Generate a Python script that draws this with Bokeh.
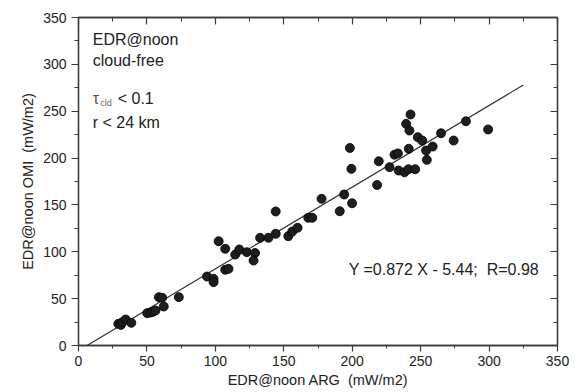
from bokeh.plotting import figure
from bokeh.models import Range1d, LinearAxis, SingleIntervalTicker, CustomJSTickFormatter
from bokeh.core.properties import value
from bokeh.embed import file_html
from bokeh.resources import INLINE

# ---- data ----
arg_x = [29.1, 31.0, 32.0, 34.5, 38.6, 50.2, 52.6, 54.5, 56.3, 58.7, 61.1, 62.3, 73.3,
         93.9, 98.7, 98.7, 102.4, 107.2, 107.2, 109.6, 114.5, 117.5, 123.0, 129.0, 127.9,
         132.7, 138.8, 144.1, 144.1, 153.3, 156.2, 160.1, 167.9, 170.8, 177.6, 190.9,
         194.1, 199.9, 198.3, 199.4, 218.2, 219.4, 227.3, 230.9, 233.4, 233.9, 238.2,
         241.1, 246.0, 241.3, 242.6, 239.4, 241.8, 247.9, 251.1, 254.0, 254.5, 258.8,
         264.9, 274.1, 283.1, 299.3]
omi_y = [23.1, 22.0, 24.9, 27.7, 24.2, 34.5, 35.2, 36.0, 37.3, 51.6, 50.9, 41.6, 51.6,
         73.6, 71.1, 67.6, 111.3, 103.2, 80.8, 81.8, 97.0, 102.5, 99.6, 98.7, 90.7,
         114.9, 114.9, 119.2, 143.0, 116.6, 121.6, 125.6, 136.3, 136.3, 156.5, 143.3,
         161.1, 151.8, 210.8, 188.5, 171.3, 196.6, 190.3, 203.6, 205.0, 186.7, 184.9,
         188.1, 188.1, 209.9, 246.5, 236.5, 229.4, 222.3, 218.7, 208.1, 198.1, 212.3,
         226.5, 218.7, 239.3, 230.5]

fit_slope = 0.872
fit_intercept = -5.44
fit_x = [6.24, 325.0]
fit_y = [fit_slope * v + fit_intercept for v in fit_x]

NB2 = "\u00a0\u00a0"
x_title = "EDR@noon ARG" + NB2 + "(mW/m2)"
y_title = "EDR@noon OMI" + NB2 + "(mW/m2)"
notes = ["EDR@noon", "cloud-free"]
eq_text = "Y =0.872 X - 5.44;" + NB2 + "R=0.98"

FONT = "Liberation Sans"
AX = "#3a3a3a"
TXT = "#222222"

p = figure(width=577, height=392, output_backend="svg", toolbar_location=None,
           x_range=Range1d(0, 350), y_range=Range1d(0, 350),
           min_border_left=78, min_border_right=20, min_border_top=17, min_border_bottom=47)
p.xgrid.visible = False
p.ygrid.visible = False
p.outline_line_color = AX
p.outline_line_width = 1.3
p.background_fill_color = "white"
p.border_fill_color = "white"

def style(ax, tick_in, tick_out, minor_in, minor_out, labels=True):
    ax.ticker = SingleIntervalTicker(interval=50, num_minor_ticks=2)
    ax.axis_line_color = AX
    ax.axis_line_width = 1.3
    ax.major_tick_line_color = AX
    ax.minor_tick_line_color = AX
    ax.major_tick_line_width = 1.2
    ax.minor_tick_line_width = 1.0
    ax.major_tick_in = tick_in
    ax.major_tick_out = tick_out
    ax.minor_tick_in = minor_in
    ax.minor_tick_out = minor_out
    ax.major_label_text_font = FONT
    ax.major_label_text_font_size = "14px"
    ax.major_label_text_color = TXT
    ax.axis_label_text_font = FONT
    ax.axis_label_text_font_size = "14.5px"
    ax.axis_label_text_font_style = "normal"
    ax.axis_label_text_color = TXT
    if not labels:
        ax.formatter = CustomJSTickFormatter(code="return ''")
        ax.major_label_standoff = 0

xa = p.xaxis[0]
ya = p.yaxis[0]
style(xa, 0, 6, 0, 3)
style(ya, 0, 7, 0, 4)
xa.axis_label = x_title
ya.axis_label = y_title
xa.major_label_standoff = 4
xa.axis_label_standoff = 3
ya.major_label_standoff = 5
ya.axis_label_standoff = 4

top = LinearAxis()
style(top, 7, 0, 4, 0, labels=False)
p.add_layout(top, "above")
right = LinearAxis()
style(right, 7, 0, 4, 0, labels=False)
p.add_layout(right, "right")

# regression line
p.line(fit_x, fit_y, line_color="#333333", line_width=1.2)

# data points
p.scatter(arg_x, omi_y, size=9, fill_color="#1e1e1e", line_color="#000000", line_width=0.8)

# annotations
tx = 10.4
FS = "16px"
p.text(x=[tx, tx], y=[326, 304.6], text=notes, text_font=value(FONT),
       text_font_size=FS, text_color=TXT, text_baseline="middle")
p.text(x=[tx], y=[264], text=["τ"], text_font=value(FONT), text_font_size=FS,
       text_color="#555555", text_baseline="middle")
p.text(x=[tx], y=[264], text=["cld"], text_font=value(FONT), text_font_size="9px",
       text_color="#666666", text_baseline="middle", x_offset=7.5, y_offset=5)
p.text(x=[tx], y=[264], text=["< 0.1"], text_font=value(FONT), text_font_size=FS,
       text_color=TXT, text_baseline="middle", x_offset=25)
p.text(x=[tx], y=[238.3], text=["r < 24 km"], text_font=value(FONT), text_font_size=FS,
       text_color=TXT, text_baseline="middle")
p.text(x=[197.4], y=[80.9], text=[eq_text], text_font=value(FONT), text_font_size=FS,
       text_color=TXT, text_baseline="middle")

open("out.html", "w").write(file_html(p, INLINE))
